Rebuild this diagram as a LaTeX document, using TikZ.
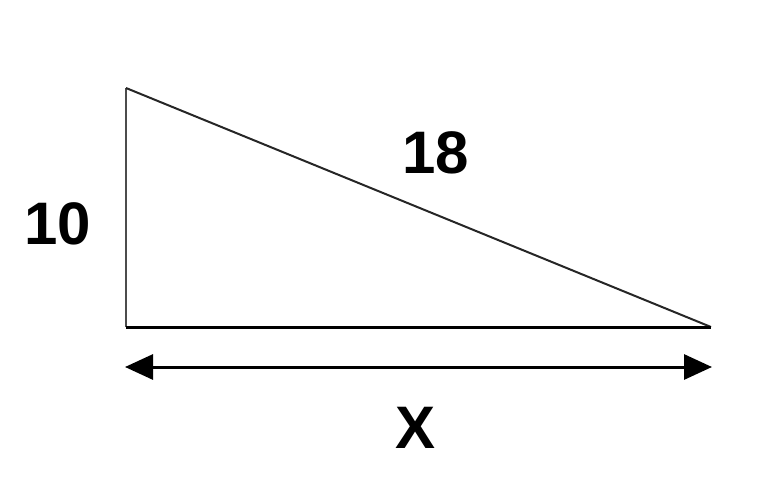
\documentclass[tikz,border=0pt]{standalone}
\usepackage{fontspec}
\setmainfont{Liberation Sans}
\usetikzlibrary{arrows.meta, positioning}

\begin{document}
\begin{tikzpicture}[x=1pt, y=-1pt,
      lbl/.style={inner sep=0pt, font=\fontsize{60}{72}\selectfont\bfseries},
      side/.style={line width=2pt, draw=black!85},
      base/.style={line width=3pt},
      dim/.style={{Triangle[length=28pt, width=25pt]}-{Triangle[length=28pt, width=25pt]}, line width=3pt}]
    \useasboundingbox (0,0) rectangle (784,484);
    \coordinate (top)   at (126,88);
    \coordinate (left)  at (126,327);
    \coordinate (right) at (711,327);
    \coordinate (dimL)  at (125,367);
    \coordinate (dimR)  at (712,367);
    \draw[side, draw=black!70] (left) -- (top);
    \draw[side] (top) -- (right);
    \draw[base] (left) -- (right);
    \draw[dim] (dimL) -- (dimR);
    \node[lbl] (h) at (58,224)  {10};
    \node[lbl] (c) at (436,153) {18};
    \node[lbl] (x) at (416,428) {X};
  \end{tikzpicture}
\end{document}
